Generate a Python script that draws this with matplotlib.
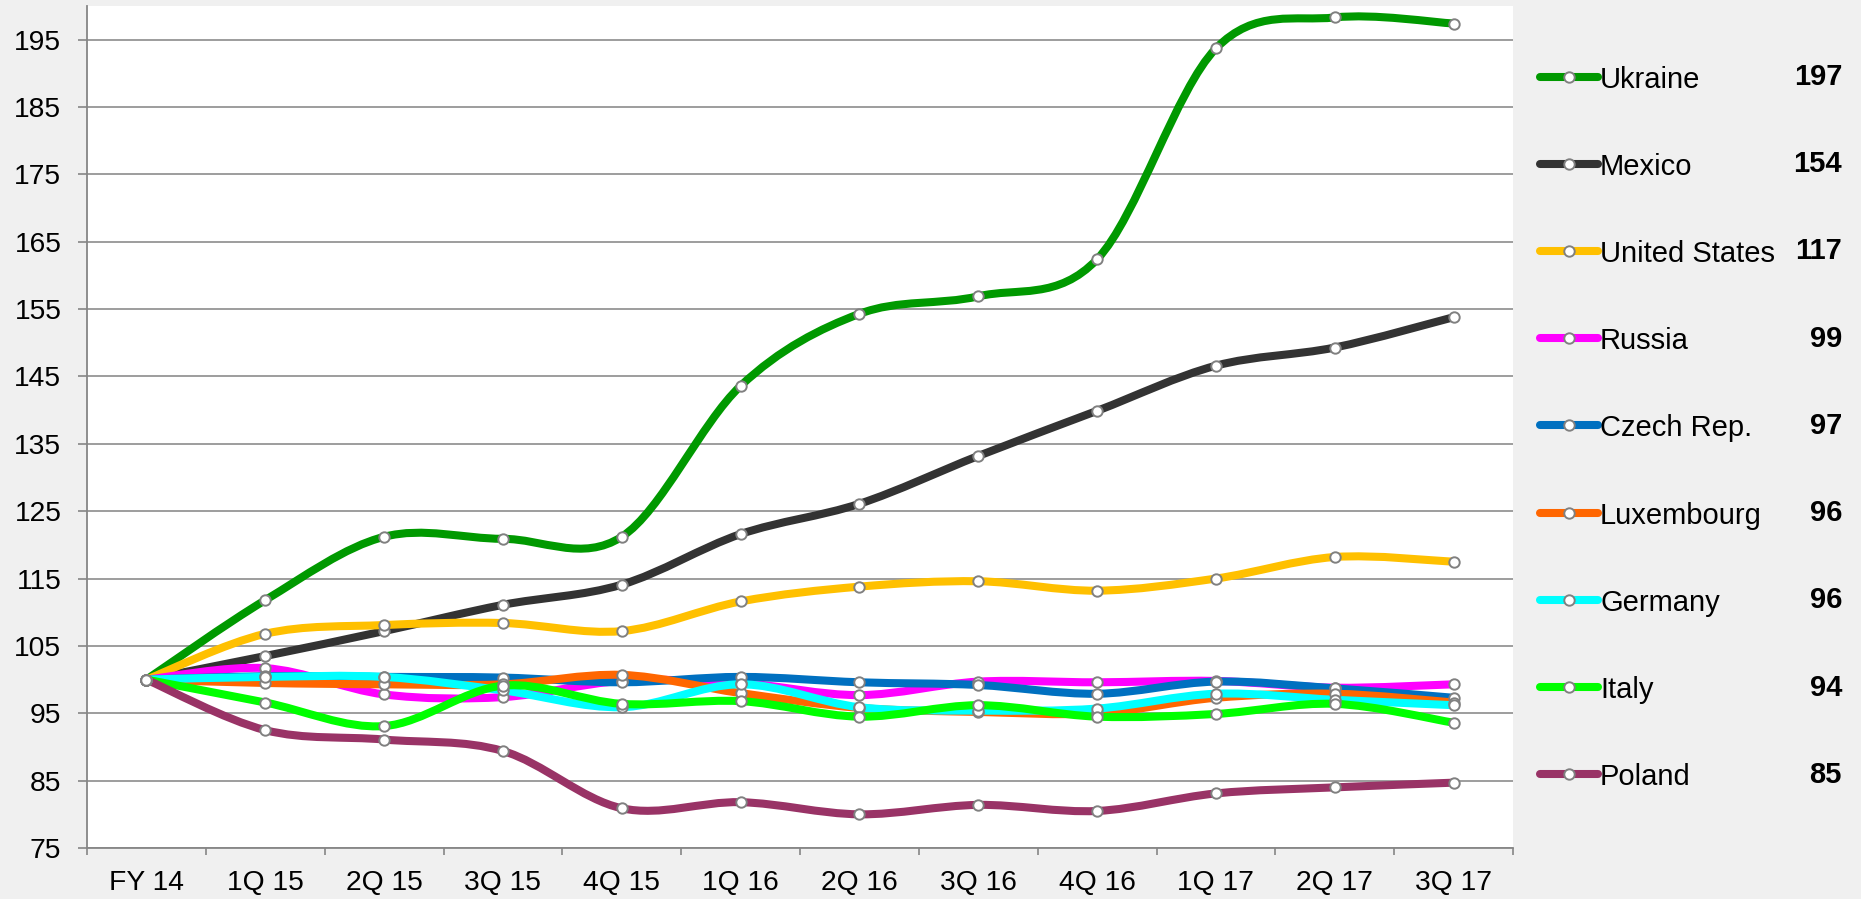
import numpy as np
import matplotlib
matplotlib.use("Agg")
import matplotlib.pyplot as plt
from matplotlib.path import Path
from matplotlib.patches import PathPatch

plt.rcParams['font.family'] = ['Liberation Sans', 'DejaVu Sans']

quarters = ['FY 14', '1Q 15', '2Q 15', '3Q 15', '4Q 15', '1Q 16',
            '2Q 16', '3Q 16', '4Q 16', '1Q 17', '2Q 17', '3Q 17']

ukraine = [100, 111.8, 121.2, 120.9, 121.2, 143.6, 154.3, 156.9, 162.4, 193.7, 198.3, 197.4]
mexico = [100, 103.5, 107.2, 111.1, 114.1, 121.6, 126.1, 133.2, 139.9, 146.6, 149.3, 153.8]
usa = [100, 106.8, 108.1, 108.4, 107.2, 111.6, 113.8, 114.6, 113.2, 115.0, 118.2, 117.5]
russia = [100, 101.7, 97.8, 97.4, 99.8, 99.5, 97.7, 99.7, 99.6, 99.8, 98.8, 99.3]
czech = [100, 100.5, 100.4, 100.3, 99.6, 100.4, 99.6, 99.2, 97.9, 99.7, 98.7, 97.3]
luxembourg = [100, 99.5, 99.3, 99.3, 100.7, 98.0, 95.8, 95.2, 95.0, 97.3, 97.9, 96.6]
germany = [100, 100.4, 100.4, 98.4, 95.9, 99.3, 95.9, 95.4, 95.7, 97.9, 97.0, 96.2]
italy = [100, 96.6, 93.1, 99.1, 96.4, 96.8, 94.5, 96.2, 94.5, 94.9, 96.4, 93.6]
poland = [100, 92.5, 91.1, 89.4, 80.9, 81.8, 80.0, 81.4, 80.5, 83.1, 84.0, 84.7]

names = ['Ukraine', 'Mexico', 'United States', 'Russia', 'Czech Rep.',
         'Luxembourg', 'Germany', 'Italy', 'Poland']
latest = ['197', '154', '117', '99', '97', '96', '96', '94', '85']
series = [ukraine, mexico, usa, russia, czech, luxembourg, germany, italy, poland]
colors = ['#009900', '#333333', '#FFC000', '#FF00FF', '#0070C0',
          '#FF6600', '#00FFFF', '#00FF00', '#993366']

FS = 20.3
FS_LEG = 21
LW = 5.8
MS = 7.5


def smooth_path(x, y):
    # bezier through the points, like a spreadsheet "smoothed line"
    pts = np.column_stack([x, y]).astype(float)
    ext = np.vstack([pts[0], pts, pts[-1]])
    verts = [pts[0]]
    codes = [Path.MOVETO]
    for i in range(len(pts) - 1):
        p0, p1, p2, p3 = ext[i], ext[i + 1], ext[i + 2], ext[i + 3]
        verts += [p1 + (p2 - p0) / 6, p2 - (p3 - p1) / 6, p2]
        codes += [Path.CURVE4] * 3
    return Path(verts, codes)


fig = plt.figure(figsize=(18.61, 8.99), dpi=100, facecolor='#f0f0f0')
ax = fig.add_axes([87 / 1861, 1 - 848 / 899, (1513 - 87) / 1861, (848 - 6) / 899])
ax.set_facecolor('white')

x = np.arange(len(quarters))
for k, (vals, col) in enumerate(zip(series, colors)):
    ax.add_patch(PathPatch(smooth_path(x, vals), fill=False, edgecolor=col, lw=LW,
                           capstyle='round', joinstyle='round', zorder=2 + k * 0.01))
for vals in series:
    ax.plot(x, vals, ls='none', marker='o', ms=MS, mfc='white', mec='#808080',
            mew=1.4, zorder=3)

ax.set_xlim(-0.5, len(quarters) - 0.5)
ax.set_ylim(75, 200)
ax.set_yticks(np.arange(75, 196, 10))
ax.set_xticks(x)
ax.set_xticklabels(quarters)
ax.set_xticks(np.arange(-0.5, len(quarters), 1), minor=True)
ax.grid(axis='y', color='#8c8c8c', lw=1.2)
ax.set_axisbelow(True)
for s in ['top', 'right']:
    ax.spines[s].set_visible(False)
for s in ['left', 'bottom']:
    ax.spines[s].set_color('#868686')
    ax.spines[s].set_linewidth(1.3)
ax.tick_params(axis='y', direction='out', length=6.5, width=1.2, color='#868686',
               pad=12, labelsize=FS)
ax.tick_params(axis='x', which='major', length=0, pad=16, labelsize=FS)
ax.tick_params(axis='x', which='minor', direction='out', length=5, width=1.2,
               color='#868686')

# legend panel with latest values
lg = fig.add_axes([1530 / 1861, 1 - 818 / 899, 331 / 1861, 785 / 899])
lg.set_xlim(1530, 1861)
lg.set_ylim(len(names) - 0.5, -0.5)
lg.axis('off')
for i, (name, col, val) in enumerate(zip(names, colors, latest)):
    lg.plot([1540, 1598], [i, i], color=col, lw=LW, solid_capstyle='round')
    lg.plot([1569], [i], marker='o', ms=MS, mfc='white', mec='#808080', mew=1.4)
    lg.text(1600, i, name, ha='left', va='center_baseline', fontsize=FS_LEG)
    lg.text(1842, i - 0.03, val, ha='right', va='center_baseline', fontsize=FS_LEG,
            fontweight='bold')

fig.savefig('out.png', dpi=100, facecolor=fig.get_facecolor())
